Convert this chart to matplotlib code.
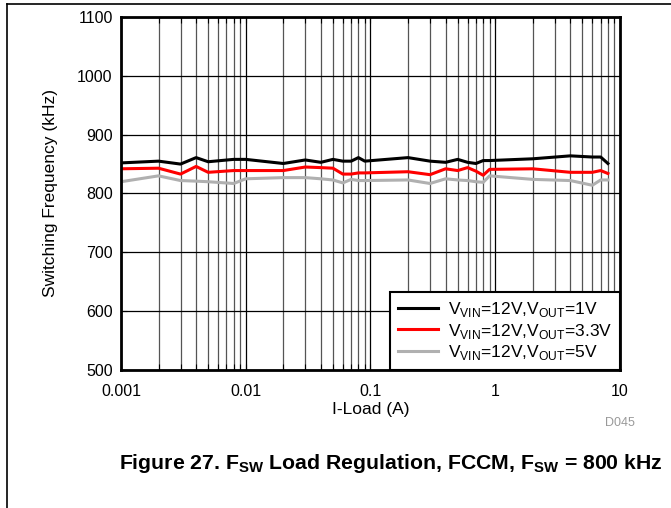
import matplotlib
matplotlib.use("Agg")
import matplotlib.pyplot as plt
from matplotlib.lines import Line2D
from matplotlib.ticker import LogLocator, NullFormatter, FixedLocator

plt.rcParams['font.family'] = ['Liberation Sans', 'DejaVu Sans']
plt.rcParams['mathtext.fontset'] = 'custom'
plt.rcParams['mathtext.rm'] = 'Liberation Sans'
plt.rcParams['mathtext.bf'] = 'Liberation Sans:bold'

# load current (A)
i_load = [0.001, 0.002, 0.003, 0.004, 0.005, 0.008, 0.01, 0.02, 0.03, 0.04,
          0.05, 0.06, 0.07, 0.08, 0.09, 0.2, 0.3, 0.4, 0.5, 0.6,
          0.7, 0.8, 0.9, 2, 4, 6, 7, 8]
# switching frequency (kHz)
f_1v = [852, 855, 850, 861, 854, 858, 858, 851, 857, 853,
        858, 855, 855, 861, 855, 861, 855, 853, 858, 853,
        851, 856, 856, 859, 864, 862, 862, 851]
f_3v3 = [842, 843, 833, 846, 836, 839, 839, 839, 845, 844,
         843, 833, 833, 835, 835, 837, 832, 842, 839, 844,
         838, 831, 841, 842, 836, 836, 839, 834]
f_5v = [820, 830, 822, 821, 820, 817, 825, 827, 827, 825,
        823, 818, 824, 822, 822, 823, 817, 825, 823, 822,
        820, 819, 830, 824, 822, 814, 823, 823]

labels = [r"V$_\mathregular{VIN}$=12V,V$_\mathregular{OUT}$=1V",
          r"V$_\mathregular{VIN}$=12V,V$_\mathregular{OUT}$=3.3V",
          r"V$_\mathregular{VIN}$=12V,V$_\mathregular{OUT}$=5V"]
colors = ['black', 'red', '#b0b0b0']

fig = plt.figure(figsize=(6.71, 5.08), dpi=100)
ax = fig.add_axes([0.1803, 0.2717, 0.7437, 0.6948])

for y, c, lab in zip([f_1v, f_3v3, f_5v], colors, labels):
    ax.plot(i_load, y, color=c, lw=2.2, label=lab)

ax.set_xscale('log')
ax.set_xlim(0.001, 10)
ax.set_ylim(500, 1100)
ax.set_yticks(range(500, 1101, 100))
ax.xaxis.set_major_locator(FixedLocator([0.001, 0.01, 0.1, 1, 10]))
ax.set_xticklabels(['0.001', '0.01', '0.1', '1', '10'])
ax.xaxis.set_minor_locator(LogLocator(base=10, subs=range(2, 10)))
ax.xaxis.set_minor_formatter(NullFormatter())

ax.grid(True, which='major', axis='both', color='black', lw=0.9)
ax.grid(True, which='minor', axis='x', color='#555555', lw=0.9)
ax.tick_params(which='both', direction='in', top=True, right=False,
               labelsize=11.5, length=4, width=0.8)
ax.tick_params(axis='x', pad=10)
ax.tick_params(axis='y', pad=6)
for s in ax.spines.values():
    s.set_linewidth(2)

ax.set_xlabel('I-Load (A)', fontsize=12.5, labelpad=2)
ax.set_ylabel('Switching Frequency (kHz)', fontsize=12.5, labelpad=14)

leg = ax.legend(loc='lower right', fontsize=12.5, frameon=True, fancybox=False,
                handlelength=2.3, borderpad=0.45, labelspacing=0.15,
                borderaxespad=0.0, handletextpad=0.6)
leg.get_frame().set_edgecolor('black')
leg.get_frame().set_linewidth(1.5)
leg.get_frame().set_alpha(1)

fig.text(0.946, 0.167, 'D045', fontsize=9, color='#999999', ha='right',
         va='center')
fig.text(0.582, 0.076,
         r"Figure 27. F$_\mathbf{SW}$ Load Regulation, FCCM, F$_\mathbf{SW}$ = 800 kHz",
         fontsize=15.3, fontweight='bold', ha='center')

# page frame lines
fig.add_artist(Line2D([0.011, 0.011], [0, 0.992], color='black', lw=1.2,
                      transform=fig.transFigure))
fig.add_artist(Line2D([0.011, 1.0], [0.992, 0.992], color='black', lw=1.2,
                      transform=fig.transFigure))

fig.savefig('out.png', dpi=100)
